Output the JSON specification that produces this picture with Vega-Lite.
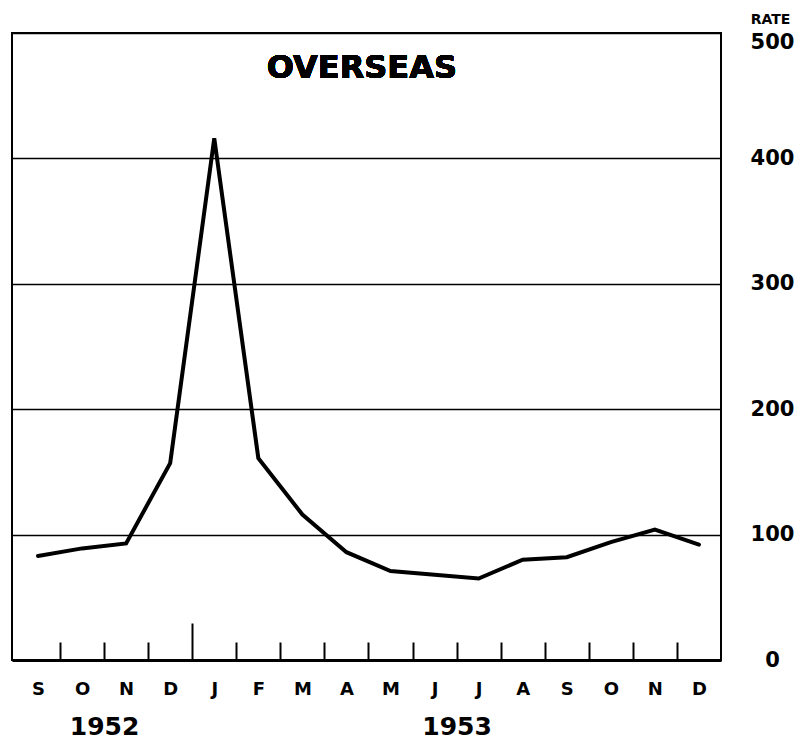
{
  "$schema": "https://vega.github.io/schema/vega-lite/v6.json",
  "width": 709,
  "height": 627,
  "autosize": "none",
  "padding": {"left": 12, "top": 33, "right": 78, "bottom": 84},
  "background": "white",
  "data": {
    "values": [
      {"i": 0, "month": "S", "year": 1952, "rate": 83},
      {"i": 1, "month": "O", "year": 1952, "rate": 89},
      {"i": 2, "month": "N", "year": 1952, "rate": 93},
      {"i": 3, "month": "D", "year": 1952, "rate": 157},
      {"i": 4, "month": "J", "year": 1953, "rate": 416},
      {"i": 5, "month": "F", "year": 1953, "rate": 161},
      {"i": 6, "month": "M", "year": 1953, "rate": 116},
      {"i": 7, "month": "A", "year": 1953, "rate": 86},
      {"i": 8, "month": "M", "year": 1953, "rate": 71},
      {"i": 9, "month": "J", "year": 1953, "rate": 68},
      {"i": 10, "month": "J", "year": 1953, "rate": 65},
      {"i": 11, "month": "A", "year": 1953, "rate": 80},
      {"i": 12, "month": "S", "year": 1953, "rate": 82},
      {"i": 13, "month": "O", "year": 1953, "rate": 94},
      {"i": 14, "month": "N", "year": 1953, "rate": 104},
      {"i": 15, "month": "D", "year": 1953, "rate": 92}
    ]
  },
  "resolve": {"axis": {"x": "independent", "y": "independent"}},
  "layer": [
    {
      "mark": {"type": "line", "color": "black", "strokeWidth": 4, "strokeJoin": "miter", "strokeCap": "round"},
      "encoding": {
        "x": {
          "field": "i",
          "type": "quantitative",
          "scale": {"domain": [-0.59, 15.5], "nice": false, "zero": false},
          "axis": {
            "title": null,
            "orient": "bottom",
            "values": [0, 0.5, 1, 1.5, 2, 2.5, 3, 3.5, 4, 4.5, 5, 5.5, 6, 6.5, 7, 7.5, 8, 8.5, 9, 9.5, 10, 10.5, 11, 11.5, 12, 12.5, 13, 13.5, 14, 14.5, 15],
            "labelExpr": "datum.value == 1.5 ? '1952' : datum.value == 9.5 ? '1953' : (datum.value % 1 == 0 ? ['S','O','N','D','J','F','M','A','M','J','J','A','S','O','N','D'][datum.value] : '')",
            "labelOverlap": false,
            "labelFlush": false,
            "labelBound": false,
            "labelFont": "DejaVu Sans",
            "labelFontWeight": "bold",
            "labelFontSize": {"condition": {"test": "datum.value % 1 != 0", "value": 25}, "value": 18},
            "labelPadding": {"condition": {"test": "datum.value % 1 != 0", "value": 84}, "value": 47},
            "labelBaseline": "middle",
            "labelColor": "black",
            "grid": false,
            "ticks": true,
            "tickColor": "black",
            "tickWidth": 2,
            "tickOpacity": {"condition": {"test": "datum.value % 1 == 0", "value": 0}, "value": 1},
            "tickSize": {"condition": {"test": "datum.value == 3.5", "value": -37}, "value": -18},
            "domain": true,
            "domainColor": "black",
            "domainWidth": 3
          }
        },
        "y": {
          "field": "rate",
          "type": "quantitative",
          "scale": {"domain": [0, 500], "nice": false},
          "axis": {
            "orient": "right",
            "values": [0, 100, 200, 300, 400, 500],
            "title": "RATE",
            "titleAngle": 0,
            "titleAlign": "center",
            "titleBaseline": "middle",
            "titleX": 49,
            "titleY": -14,
            "titleFont": "DejaVu Sans",
            "titleFontSize": 14,
            "titleFontWeight": "bold",
            "titleColor": "black",
            "labelFont": "DejaVu Sans",
            "labelFontSize": 21,
            "labelFontWeight": "bold",
            "labelAlign": "center",
            "labelBaseline": "middle",
            "labelOffset": {"condition": {"test": "datum.value == 500", "value": 9}, "value": 0},
            "labelPadding": 51,
            "labelColor": "black",
            "ticks": false,
            "domain": false,
            "grid": true,
            "gridColor": "black",
            "gridWidth": 1.5,
            "gridOpacity": 1
          }
        }
      }
    },
    {
      "mark": {
        "type": "text",
        "font": "DejaVu Sans",
        "fontSize": 32,
        "fontWeight": "bold",
        "baseline": "alphabetic",
        "align": "center",
        "fill": "black"
      },
      "encoding": {
        "x": {"datum": 7.35, "type": "quantitative", "axis": null},
        "y": {"datum": 464, "type": "quantitative", "axis": null},
        "text": {"value": "OVERSEAS"}
      }
    }
  ],
  "config": {
    "view": {"stroke": "black", "strokeWidth": 2}
  }
}
